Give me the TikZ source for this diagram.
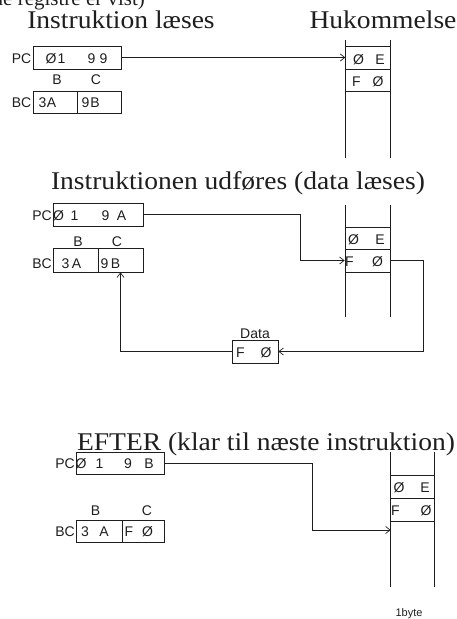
\documentclass[tikz,border=0pt]{standalone}
\usepackage{fontspec}
\setmainfont{Liberation Serif}
\newfontfamily\titlefont[FakeStretch=1.08]{Liberation Serif}
\newfontfamily\regfont{Liberation Sans}
\usetikzlibrary{arrows.meta}
\definecolor{ink}{RGB}{30,30,30}
\begin{document}
\begin{tikzpicture}[x=1pt,y=-1pt,
  title/.style={font=\titlefont\fontsize{25.5}{25.5}\selectfont, inner sep=0pt, text=ink},
  reg/.style={draw=ink, line width=0.7pt, inner sep=0pt},
  lbl/.style={font=\regfont\fontsize{14}{14}\selectfont, inner sep=0pt, text=ink},
  wire/.style={draw=ink, line width=0.7pt},
  arr/.style={wire, -{Straight Barb[length=4.5pt,width=7pt]}},
]
\useasboundingbox (0,0) rectangle (456,619);
\clip (0,0) rectangle (456,619);

% cut-off line at the very top
\node[inner sep=0pt, text=ink, anchor=base west, font=\fontsize{21}{21}\selectfont] (top) at (-7.5,5.5) {de registre er vist)};

% ================= Section 1 =================
\node[title] (t1) at (121,20) {Instruktion læses};
\node[title] (t1m) at (383,20) {Hukommelse};

\node[reg, minimum width=88pt, minimum height=23pt] (pc1) at (77,57.5) {};
\node[lbl, anchor=east] (pc1l) at (31.5,59) {PC};
\node[lbl] (pc1a) at (51,59) {Ø};
\node[lbl] (pc1b) at (61.5,59) {1};
\node[lbl] (pc1c) at (91.5,59) {9};
\node[lbl] (pc1d) at (103.5,59) {9};

\node[lbl] (b1l) at (57,80) {B};
\node[lbl] (c1l) at (96,80) {C};
\node[reg, minimum width=44pt, minimum height=22pt] (b1) at (55,102) {};
\node[reg, minimum width=44pt, minimum height=22pt] (c1) at (99,102) {};
\node[lbl, anchor=east] (bc1l) at (31.5,102.5) {BC};
\node[lbl] (b1a) at (42.5,102.5) {3};
\node[lbl] (b1b) at (51.5,102.5) {A};
\node[lbl] (c1a) at (85.5,102.5) {9};
\node[lbl] (c1b) at (95,102.5) {B};

\node[reg, minimum width=45pt, minimum height=22.6pt] (m1a) at (368.2,58) {};
\node[reg, minimum width=45pt, minimum height=22.4pt] (m1b) at (368.2,80.5) {};
\coordinate (m1tl) at (345.7,40);
\coordinate (m1tr) at (390.7,40);
\coordinate (m1bl) at (345.7,158);
\coordinate (m1br) at (390.7,158);
\draw[wire] (m1tl) -- (m1bl);
\draw[wire] (m1tr) -- (m1br);
\node[lbl] (m1a1) at (358.5,59.5) {Ø};
\node[lbl] (m1a2) at (380,59.5) {E};
\node[lbl] (m1b1) at (356.5,81.5) {F};
\node[lbl] (m1b2) at (378,81.5) {Ø};

\draw[arr] (pc1.east) -- (pc1.east -| m1a.west);

% ================= Section 2 =================
\node[title] (t2) at (238,183) {Instruktionen udføres (data læses)};

\node[reg, minimum width=90pt, minimum height=23pt] (pc2) at (98,214.5) {};
\node[lbl, anchor=east] (pc2l) at (52,216) {PC};
\node[lbl] (pc2a) at (58.5,216) {Ø};
\node[lbl] (pc2b) at (74.5,216) {1};
\node[lbl] (pc2c) at (105.5,216) {9};
\node[lbl] (pc2d) at (121.5,216) {A};

\node[lbl] (b2l) at (78,242) {B};
\node[lbl] (c2l) at (117,242) {C};
\node[reg, minimum width=45pt, minimum height=24pt] (b2) at (75.5,260) {};
\node[reg, minimum width=45pt, minimum height=24pt] (c2) at (120.5,260) {};
\node[lbl, anchor=east] (bc2l) at (52,264) {BC};
\node[lbl] (b2a) at (65.5,264) {3};
\node[lbl] (b2b) at (76.5,264) {A};
\node[lbl] (c2a) at (104.5,264) {9};
\node[lbl] (c2b) at (115.5,264) {B};

\node[reg, minimum width=45pt, minimum height=22pt] (m2a) at (367.5,238) {};
\node[reg, minimum width=45pt, minimum height=23pt] (m2b) at (367.5,260.5) {};
\coordinate (m2tl) at (345,205);
\coordinate (m2tr) at (390,205);
\coordinate (m2bl) at (345,317);
\coordinate (m2br) at (390,317);
\draw[wire] (m2tl) -- (m2bl);
\draw[wire] (m2tr) -- (m2br);
\node[lbl] (m2a1) at (353.5,239.5) {Ø};
\node[lbl] (m2a2) at (380,239.5) {E};
\node[lbl] (m2b1) at (349.5,262) {F};
\node[lbl] (m2b2) at (377.5,262) {Ø};

\node[reg, minimum width=46pt, minimum height=23pt] (data) at (255,351.5) {};
\node[lbl, anchor=south] (datal) at (255,338.5) {Data};
\node[lbl] (data1) at (240.5,353) {F};
\node[lbl] (data2) at (266,353) {Ø};

\coordinate (k2) at (300,0);
\coordinate (k2r) at (423,0);
\draw[arr] (pc2.east) -- (pc2.east -| k2) -- (k2 |- m2b.west) -- (m2b.west);
\draw[arr] (m2b.east) -- (m2b.east -| k2r) -- (k2r |- data.east) -- (data.east);
\draw[arr] (data.west) -- (data.west -| c2.south) -- (c2.south);

% ================= Section 3 =================
\node[title] (t3) at (266,444) {EFTER (klar til næste instruktion)};

\node[reg, minimum width=88pt, minimum height=22pt] (pc3) at (120,463) {};
\node[lbl, anchor=east] (pc3l) at (75,464) {PC};
\node[lbl] (pc3a) at (81,464) {Ø};
\node[lbl] (pc3b) at (99.5,464) {1};
\node[lbl] (pc3c) at (128,464) {9};
\node[lbl] (pc3d) at (149,464) {B};

\node[lbl] (b3l) at (95.5,511) {B};
\node[lbl] (c3l) at (147,511) {C};
\node[reg, minimum width=46pt, minimum height=22pt] (b3) at (99,531) {};
\node[reg, minimum width=42pt, minimum height=22pt] (c3) at (143,531) {};
\node[lbl, anchor=east] (bc3l) at (75,532) {BC};
\node[lbl] (b3a) at (85,532) {3};
\node[lbl] (b3b) at (104,532) {A};
\node[lbl] (c3a) at (129,532) {F};
\node[lbl] (c3b) at (147.5,532) {Ø};

\node[reg, minimum width=43.3pt, minimum height=23pt] (m3a) at (412.35,486.5) {};
\node[reg, minimum width=43.3pt, minimum height=23pt] (m3b) at (412.35,509.5) {};
\coordinate (m3tl) at (390.7,452);
\coordinate (m3tr) at (434,452);
\coordinate (m3bl) at (390.7,587);
\coordinate (m3br) at (434,587);
\draw[wire] (m3tl) -- (m3bl);
\draw[wire] (m3tr) -- (m3br);
\node[lbl] (m3a1) at (399,488) {Ø};
\node[lbl] (m3a2) at (425,488) {E};
\node[lbl] (m3b1) at (395.5,511) {F};
\node[lbl] (m3b2) at (426,511) {Ø};

\coordinate (k3) at (312,0);
\coordinate (t3in) at (390.7,530);
\draw[arr] (pc3.east) -- (pc3.east -| k3) -- (k3 |- t3in) -- (t3in);

\node[lbl, anchor=south, font=\regfont\fontsize{11}{11}\selectfont] (byte) at (409,618.5) {1byte};
\end{tikzpicture}
\end{document}
